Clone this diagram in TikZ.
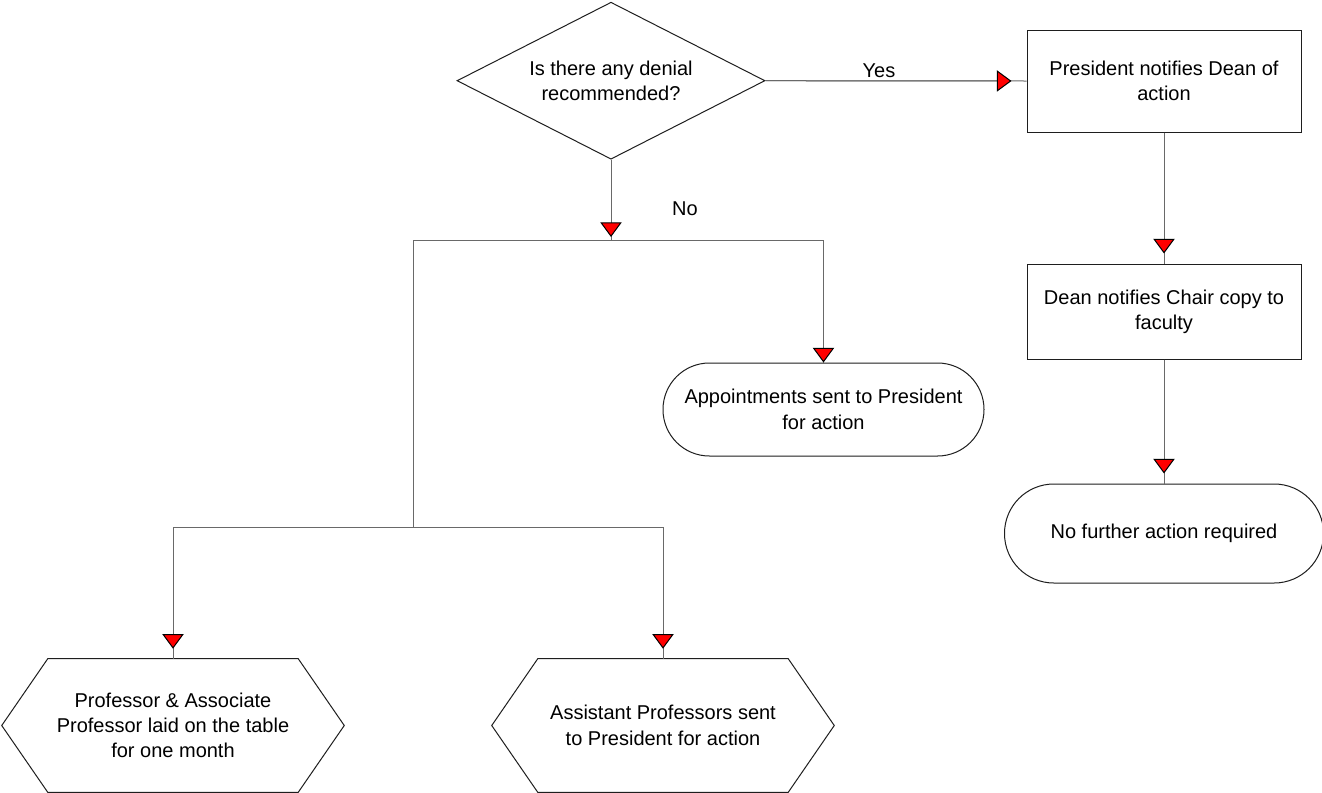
\documentclass[tikz,border=0pt]{standalone}
\usepackage{fontspec}
\setmainfont{Liberation Sans}
\usetikzlibrary{arrows.meta,shapes.geometric,calc}
\definecolor{conngray}{RGB}{105,105,105}
\definecolor{shapeline}{RGB}{30,30,30}
\begin{document}
\begin{tikzpicture}[x=0.75pt,y=-0.75pt,
  every node/.style={font=\fontsize{15pt}{19pt}\selectfont, align=center, inner sep=0pt},
  shapeln/.style={draw=shapeline, line width=0.75pt},
  procbox/.style={shapeln, rectangle, minimum width=205.5pt},
  decbox/.style={shapeln, diamond, shape aspect=2, minimum width=231pt, minimum height=117.75pt},
  termbox/.style={shapeln, rectangle, rounded corners=#1},
  hexbox/.style={rectangle, minimum width=187.5pt, minimum height=99.75pt},
  conn/.style={draw=conngray, line width=0.75pt},
  redtip/.style={postaction={draw=conngray, line width=0.75pt,
      -{Triangle[length=11pt,width=16pt,color=black,fill=red]}, shorten >=#1}},
  lbl/.style={font=\fontsize{15pt}{19pt}\selectfont}
]
\useasboundingbox[fill=white] (0,0) rectangle (1322,793);

% nodes
\node[decbox] (dec) at (611,80.7) {Is there any denial\\recommended?};
\node[procbox, minimum height=76.5pt] (pres) at (1164,81) {President notifies Dean of\\action};
\node[procbox, minimum height=71.25pt] (dean) at (1164,311.5) {Dean notifies Chair copy to\\faculty};
\node[termbox=37pt, minimum width=239.25pt, minimum height=74.25pt] (nofur) at (1164,533.5) {No further action required};
\node[termbox=34.8pt, minimum width=240.75pt, minimum height=69.75pt] (appt) at (823.5,409.5) {Appointments sent to President\\for action};
\node[hexbox] (hexa) at (173,725.5) {Professor \& Associate\\Professor laid on the table\\for one month};
\node[hexbox] (hexb) at (663,725.5) {Assistant Professors sent\\to President for action};

\draw[shapeln] (hexa.north west) -- (hexa.north east) -- ([xshift=34.5pt]hexa.east)
  -- (hexa.south east) -- (hexa.south west) -- ([xshift=-34.5pt]hexa.west) -- cycle;
\draw[shapeln] (hexb.north west) -- (hexb.north east) -- ([xshift=34.5pt]hexb.east)
  -- (hexb.south east) -- (hexb.south west) -- ([xshift=-34.5pt]hexb.west) -- cycle;

% junction coordinates
\coordinate (jno) at (611,240);
\coordinate (jnoL) at (413,240);
\coordinate (jnoR) at (823.5,240);
\coordinate (jlow) at (413,527);
\coordinate (jlowL) at (173,527);
\coordinate (jlowR) at (663,527);

% connectors
\draw[conn, redtip=11.25pt] (dec.east) -- (pres.west);
\node[lbl] (yes) at (879,71) {Yes};
\draw[conn, redtip=2.25pt] (dec.south) -- (jno);
\node[lbl] (no) at (685,209) {No};
\draw[conn] (jnoL) -- (jnoR);
\draw[conn, redtip=0pt] (jnoR) -- (appt.north);
\draw[conn] (jnoL) -- (jlow);
\draw[conn] (jlowL) -- (jlowR);
\draw[conn, redtip=7.5pt] (jlowL) -- (hexa.north);
\draw[conn, redtip=7.5pt] (jlowR) -- (hexb.north);
\draw[conn, redtip=7.5pt] (pres.south) -- (dean.north);
\draw[conn, redtip=7.5pt] (dean.south) -- (nofur.north);
\end{tikzpicture}
\end{document}
